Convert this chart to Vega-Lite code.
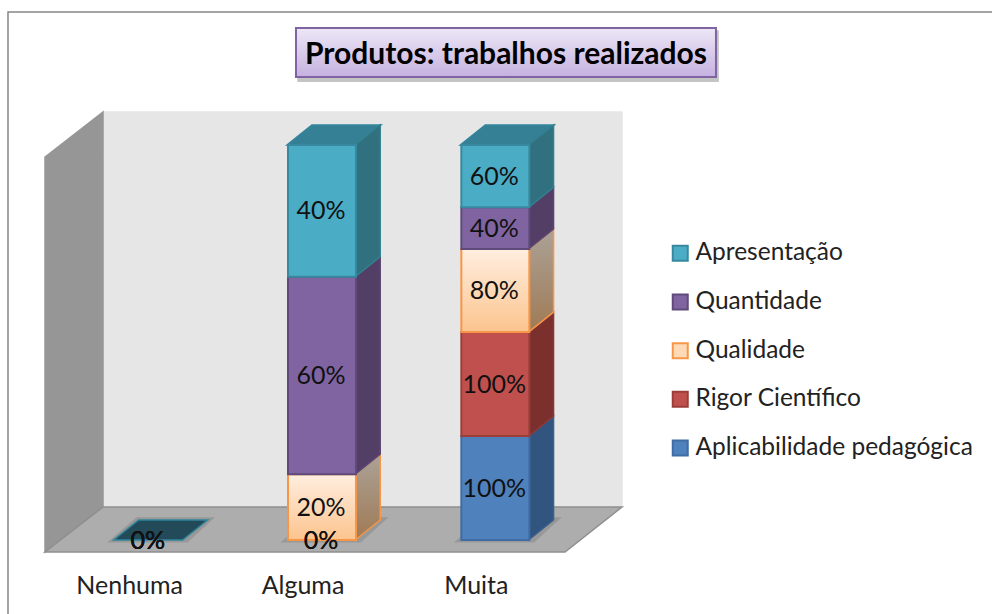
{
  "$schema": "https://vega.github.io/schema/vega-lite/v6.json",
  "width": 992,
  "height": 614,
  "autosize": "none",
  "padding": 0,
  "background": "white",
  "view": {"stroke": null},
  "config": {"font": "Lato"},
  "title": {"text": "Produtos: trabalhos realizados", "anchor": "start", "align": "center", "baseline": "middle", "frame": "group", "offset": 0, "dx": 506, "dy": 85, "font": "Lato", "fontSize": 30, "fontWeight": "bold", "color": "#000000", "zindex": 1},
  "datasets": {
    "bars": [
      {"cat": "Nenhuma", "series": "Aplicabilidade pedagógica", "value": 0},
      {"cat": "Nenhuma", "series": "Rigor Científico", "value": 0},
      {"cat": "Nenhuma", "series": "Qualidade", "value": 0},
      {"cat": "Nenhuma", "series": "Quantidade", "value": 0},
      {"cat": "Nenhuma", "series": "Apresentação", "value": 0},
      {"cat": "Alguma", "series": "Aplicabilidade pedagógica", "value": 0},
      {"cat": "Alguma", "series": "Rigor Científico", "value": 0},
      {"cat": "Alguma", "series": "Qualidade", "value": 0.2},
      {"cat": "Alguma", "series": "Quantidade", "value": 0.6},
      {"cat": "Alguma", "series": "Apresentação", "value": 0.4},
      {"cat": "Muita", "series": "Aplicabilidade pedagógica", "value": 1},
      {"cat": "Muita", "series": "Rigor Científico", "value": 1},
      {"cat": "Muita", "series": "Qualidade", "value": 0.8},
      {"cat": "Muita", "series": "Quantidade", "value": 0.4},
      {"cat": "Muita", "series": "Apresentação", "value": 0.6}
    ],
    "faces": [
      {"id": "a", "face": "frame", "x": -0.2135, "y": -0.1722, "y2": 1.3671},
      {"id": "a", "face": "frame", "x": 5.51, "y": -0.1722, "y2": 1.3671},
      {"id": "b", "face": "back", "x": 0.3346, "y": 0.1139, "y2": 1.1139},
      {"id": "b", "face": "back", "x": 3.3288, "y": 0.1139, "y2": 1.1139},
      {"id": "c", "face": "left", "x": 0, "y": 0, "y2": 1},
      {"id": "c", "face": "left", "x": 0.3346, "y": 0.1139, "y2": 1.1139},
      {"id": "d", "face": "floor", "x": 0, "y": 0, "y2": 0},
      {"id": "d", "face": "floor", "x": 0.3346, "y": 0, "y2": 0.1139},
      {"id": "d", "face": "floor", "x": 3, "y": 0, "y2": 0.1139},
      {"id": "d", "face": "floor", "x": 3.3288, "y": 0.1139, "y2": 0.1139},
      {"id": "e", "face": "shadow", "x": 0.37, "y": 0.026, "y2": 0.026},
      {"id": "e", "face": "shadow", "x": 0.53, "y": 0.026, "y2": 0.086},
      {"id": "e", "face": "shadow", "x": 0.82, "y": 0.026, "y2": 0.086},
      {"id": "e", "face": "shadow", "x": 0.97, "y": 0.086, "y2": 0.086},
      {"id": "f", "face": "shadow", "x": 1.37, "y": 0.026, "y2": 0.026},
      {"id": "f", "face": "shadow", "x": 1.53, "y": 0.026, "y2": 0.086},
      {"id": "f", "face": "shadow", "x": 1.82, "y": 0.026, "y2": 0.086},
      {"id": "f", "face": "shadow", "x": 1.97, "y": 0.086, "y2": 0.086},
      {"id": "g", "face": "shadow", "x": 2.37, "y": 0.026, "y2": 0.026},
      {"id": "g", "face": "shadow", "x": 2.53, "y": 0.026, "y2": 0.086},
      {"id": "g", "face": "shadow", "x": 2.82, "y": 0.026, "y2": 0.086},
      {"id": "g", "face": "shadow", "x": 2.97, "y": 0.086, "y2": 0.086},
      {"id": "h", "face": "empty", "x": 0.396, "y": 0.0304, "y2": 0.0304},
      {"id": "h", "face": "empty", "x": 0.54, "y": 0.0304, "y2": 0.081},
      {"id": "h", "face": "empty", "x": 0.794, "y": 0.0304, "y2": 0.081},
      {"id": "h", "face": "empty", "x": 0.938, "y": 0.081, "y2": 0.081},
      {"id": "i", "face": "top", "x": 1.396, "y": 1.0304, "y2": 1.0304},
      {"id": "i", "face": "top", "x": 1.54, "y": 1.0304, "y2": 1.081},
      {"id": "i", "face": "top", "x": 1.794, "y": 1.0304, "y2": 1.081},
      {"id": "i", "face": "top", "x": 1.938, "y": 1.081, "y2": 1.081},
      {"id": "j", "face": "top", "x": 2.396, "y": 1.0304, "y2": 1.0304},
      {"id": "j", "face": "top", "x": 2.54, "y": 1.0304, "y2": 1.081},
      {"id": "j", "face": "top", "x": 2.794, "y": 1.0304, "y2": 1.081},
      {"id": "j", "face": "top", "x": 2.938, "y": 1.081, "y2": 1.081},
      {"id": "k", "face": "titleshadow", "x": 1.46, "y": 1.192, "y2": 1.319},
      {"id": "k", "face": "titleshadow", "x": 3.883, "y": 1.192, "y2": 1.319}
    ],
    "titlebox": [
      {"x": 1.448, "y": 1.2025, "y2": 1.3266},
      {"x": 3.871, "y": 1.2025, "y2": 1.3266}
    ]
  },
  "layer": [
    {
      "data": {"name": "faces"},
      "mark": {"type": "area", "strokeWidth": 1.5},
      "encoding": {
        "x": {"field": "x", "type": "quantitative", "axis": null, "scale": {"domain": [0, 3], "range": [45, 565], "zero": false, "nice": false}},
        "y": {"field": "y", "type": "quantitative", "axis": null, "scale": {"domain": [0, 1], "range": [552, 157], "nice": false}},
        "y2": {"field": "y2"},
        "detail": {"field": "id"},
        "fill": {"field": "face", "type": "nominal", "legend": null, "scale": {"domain": ["frame", "back", "left", "floor", "shadow", "empty", "top", "titleshadow"], "range": ["#ffffff", "#e6e6e6", "#969696", "#adadad", "#989898", "#224a59", "#368096", "#c4c4c4"]}},
        "stroke": {"field": "face", "type": "nominal", "legend": null, "scale": {"domain": ["frame", "back", "left", "floor", "shadow", "empty", "top", "titleshadow"], "range": ["#878787", "#e6e6e6", "#969696", "#8f8f8f", "#989898", "#31859c", "#31859c", "#c4c4c4"]}}
      }
    },
    {
      "data": {"name": "titlebox"},
      "mark": {"type": "area", "stroke": "#8064a2", "strokeWidth": 2, "fill": {"gradient": "linear", "x1": 0, "y1": 0, "x2": 0, "y2": 1, "stops": [{"offset": 0, "color": "#ede7f6"}, {"offset": 1, "color": "#c5b1e0"}]}},
      "encoding": {
        "x": {"field": "x", "type": "quantitative", "axis": null, "scale": {"domain": [0, 3], "range": [45, 565], "zero": false, "nice": false}},
        "y": {"field": "y", "type": "quantitative", "axis": null, "scale": {"domain": [0, 1], "range": [552, 157], "nice": false}},
        "y2": {"field": "y2"}
      }
    },
    {
      "data": {"name": "bars"},
      "transform": [
        {"stack": "value", "groupby": ["cat"], "offset": "normalize", "as": ["y0", "y1"]},
        {"filter": "datum.value > 0"},
        {"calculate": "0", "as": "front"},
        {"calculate": "1", "as": "back"},
        {"fold": ["front", "back"], "as": ["edge", "depth"]},
        {"calculate": "indexof(['Nenhuma','Alguma','Muita'], datum.cat) + 0.79 + 0.144 * datum.depth", "as": "sx"},
        {"calculate": "0.0304 + 0.0506 * datum.depth + datum.y0", "as": "sy0"},
        {"calculate": "0.0304 + 0.0506 * datum.depth + datum.y1", "as": "sy1"}
      ],
      "mark": {"type": "area", "strokeWidth": 1.5},
      "encoding": {
        "x": {"field": "sx", "type": "quantitative", "axis": null, "scale": {"domain": [0, 3], "range": [45, 565], "zero": false, "nice": false}},
        "y": {"field": "sy0", "type": "quantitative", "axis": null, "scale": {"domain": [0, 1], "range": [552, 157], "nice": false}},
        "y2": {"field": "sy1"},
        "detail": {"field": "cat"},
        "fill": {
          "condition": {"test": "datum.series === 'Qualidade'", "value": {"gradient": "linear", "x1": 0, "y1": 0, "x2": 0, "y2": 1, "stops": [{"offset": 0, "color": "#aba297"}, {"offset": 1, "color": "#a07a55"}]}},
          "field": "series", "type": "nominal", "legend": null,
          "scale": {"domain": ["Apresentação", "Quantidade", "Qualidade", "Rigor Científico", "Aplicabilidade pedagógica"], "range": ["#31707f", "#533e66", "#a58d75", "#7b302e", "#325580"]}
        },
        "stroke": {
          "field": "series", "type": "nominal", "legend": null,
          "scale": {"domain": ["Apresentação", "Quantidade", "Qualidade", "Rigor Científico", "Aplicabilidade pedagógica"], "range": ["#31808f", "#5d4575", "#f79646", "#8c3836", "#39618f"]}
        }
      }
    },
    {
      "data": {"name": "bars"},
      "transform": [
        {"stack": "value", "groupby": ["cat"], "offset": "normalize", "as": ["y0", "y1"]},
        {"filter": "datum.value > 0"}
      ],
      "mark": {"type": "bar", "size": 68, "strokeWidth": 2, "yOffset": -12, "y2Offset": -12, "xOffset": 17},
      "encoding": {
        "x": {"field": "cat", "type": "nominal", "title": null, "scale": {"type": "band", "domain": ["Nenhuma", "Alguma", "Muita"], "range": [45, 565], "paddingInner": 0, "paddingOuter": 0}, "axis": {"domain": false, "ticks": false, "grid": false, "zindex": 1, "labelAngle": 0, "labelFont": "Lato", "labelFontSize": 25, "labelColor": "#222222", "labelPadding": 0, "labelOffset": -2, "offset": -41}},
        "y": {"field": "y0", "type": "quantitative", "axis": null, "scale": {"domain": [0, 1], "range": [552, 157], "nice": false}},
        "y2": {"field": "y1"},
        "color": {
          "condition": {"test": "datum.series === 'Qualidade'", "value": {"gradient": "linear", "x1": 0, "y1": 0, "x2": 0, "y2": 1, "stops": [{"offset": 0, "color": "#ffeee0"}, {"offset": 1, "color": "#fcc48e"}]}},
          "field": "series", "type": "nominal",
          "scale": {"domain": ["Apresentação", "Quantidade", "Qualidade", "Rigor Científico", "Aplicabilidade pedagógica"], "range": ["#4bacc6", "#8064a2", "#fdd9b5", "#c0504d", "#4f81bd"]},
          "legend": {"title": null, "orient": "none", "legendX": 668, "legendY": 241, "symbolType": "square", "symbolSize": 225, "symbolStrokeWidth": 2, "labelFont": "Lato", "labelFontSize": 24.5, "labelColor": "#222222", "labelOffset": 3, "rowPadding": 23.7, "labelLimit": 320}
        },
        "stroke": {
          "field": "series", "type": "nominal",
          "scale": {"domain": ["Apresentação", "Quantidade", "Qualidade", "Rigor Científico", "Aplicabilidade pedagógica"], "range": ["#38899f", "#5f4a7a", "#f79646", "#9b3e3b", "#3f6ca3"]},
          "legend": {"title": null, "orient": "none", "legendX": 668, "legendY": 241, "symbolType": "square", "symbolSize": 225, "symbolStrokeWidth": 2, "labelFont": "Lato", "labelFontSize": 24.5, "labelColor": "#222222", "labelOffset": 3, "rowPadding": 23.7, "labelLimit": 320}
        }
      }
    },
    {
      "data": {"name": "bars"},
      "transform": [
        {"stack": "value", "groupby": ["cat"], "offset": "normalize", "as": ["y0", "y1"]},
        {"calculate": "isFinite(datum.y0) ? (datum.y0 + datum.y1) / 2 : 0", "as": "mid"}
      ],
      "mark": {"type": "text", "font": "Lato", "fontSize": 25, "color": "#111111", "baseline": "middle", "yOffset": -11.5, "xOffset": 16},
      "encoding": {
        "x": {"field": "cat", "type": "nominal", "axis": null, "scale": {"type": "band", "domain": ["Nenhuma", "Alguma", "Muita"], "range": [45, 565], "paddingInner": 0, "paddingOuter": 0}},
        "y": {"field": "mid", "type": "quantitative", "axis": null, "scale": {"domain": [0, 1], "range": [552, 157], "nice": false}},
        "text": {"field": "value", "type": "quantitative", "format": ".0%"}
      }
    }
  ],
  "resolve": {"scale": {"x": "independent", "fill": "independent", "stroke": "independent", "color": "independent"}}
}
